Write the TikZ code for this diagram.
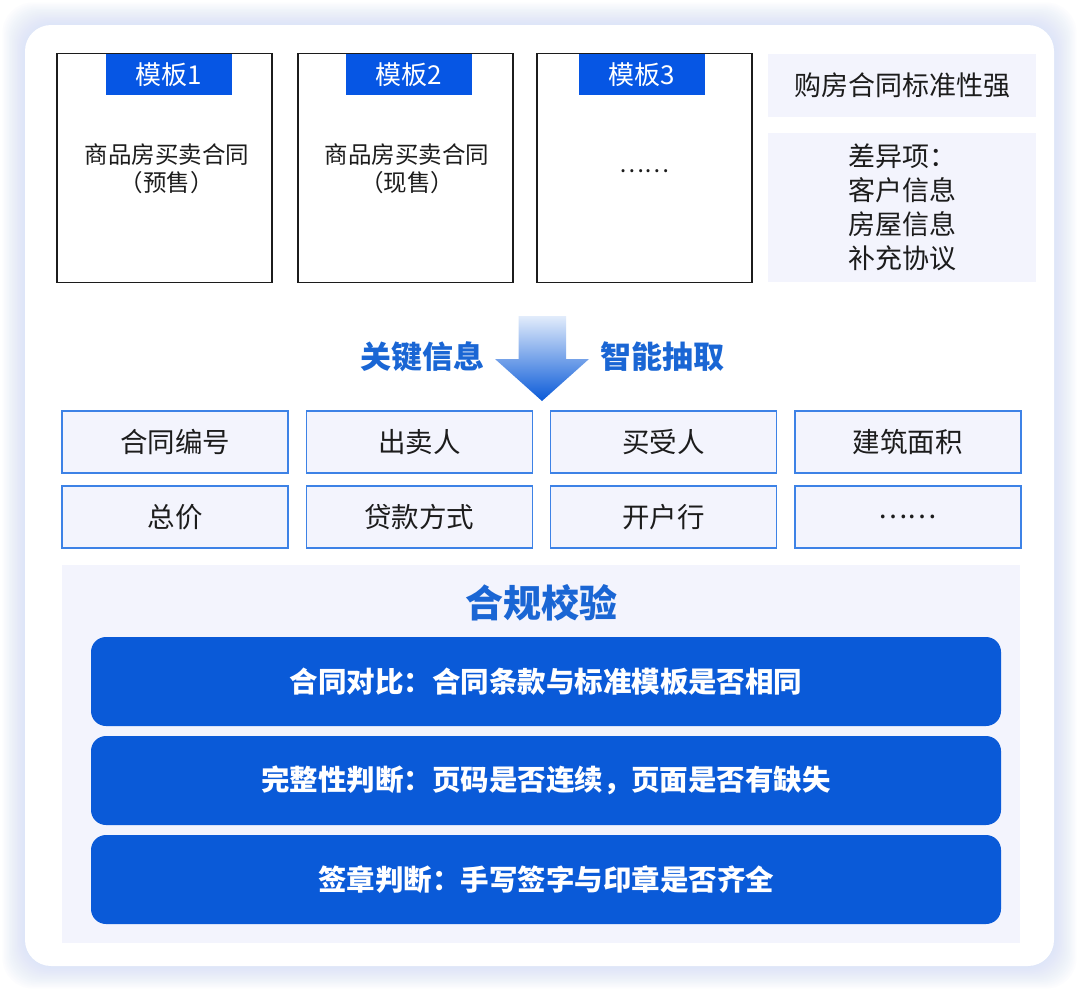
\documentclass[tikz,border=0pt]{standalone}
\usepackage{fontspec}
\setmainfont{Noto Sans CJK SC}
\definecolor{tabblue}{HTML}{0656E4}
\definecolor{barblue}{HTML}{0A5AD8}
\definecolor{titleblue}{HTML}{1A66D4}
\definecolor{paleblue}{HTML}{F3F4FD}
\definecolor{lineblue}{HTML}{3D82E6}
\definecolor{glowblue}{HTML}{C9D6F8}
\definecolor{arrowtop}{HTML}{E2ECFB}
\definecolor{inkgray}{HTML}{1C1C1C}
\begin{document}
\begin{tikzpicture}[x=1pt, y=-1pt,
  tplbox/.style={draw=inkgray, line width=1.3pt, fill=white, minimum width=215pt, minimum height=229pt, inner sep=0pt},
  tab/.style={fill=tabblue, text=white, minimum width=126pt, minimum height=41pt, inner sep=0pt, font=\fontsize{26}{30}\selectfont},
  tpltext/.style={text=inkgray, align=center, font=\fontsize{23.5}{28}\selectfont},
  notebox/.style={fill=paleblue, minimum width=268pt, inner sep=0pt, text=inkgray, align=center, font=\fontsize{27}{34}\selectfont},
  field/.style={draw=lineblue, line width=1.3pt, fill=paleblue, minimum width=226pt, minimum height=62pt, inner sep=0pt, text=inkgray, font=\fontsize{27.5}{32}\selectfont},
  bluelabel/.style={text=titleblue, font=\fontsize{31}{36}\selectfont\bfseries},
  bar/.style={fill=barblue, rounded corners=15pt, minimum width=910pt, minimum height=89pt, inner sep=0pt, text=white, font=\fontsize{28.5}{34}\selectfont\bfseries}]
\useasboundingbox (0,0) rectangle (1080,991);
\fill[white] (0,0) rectangle (1080,991);
\foreach \i in {1,...,14}
  \fill[glowblue, opacity=0.05, rounded corners=30pt] (25-1.6*\i,25-1.6*\i) rectangle (1054+1.6*\i,966+1.6*\i);
\fill[white, rounded corners=26pt] (25,25) rectangle (1054,966);

\node[tplbox] (tpl1) at (164.5,168) {};
\node[tplbox] (tpl2) at (405.5,168) {};
\node[tplbox] (tpl3) at (644.5,168) {};
\node[tab] (tab1) at (169,74.5) {模板1};
\node[tab] (tab2) at (408.5,74.5) {模板2};
\node[tab] (tab3) at (641.5,74.5) {模板3};
\node[tpltext] (kind1) at (167,169) {商品房买卖合同\\（预售）};
\node[tpltext] (kind2) at (407,169) {商品房买卖合同\\（现售）};
\node[tpltext] (kind3) at (644.5,171) {……};

\node[notebox, minimum height=63pt] (std) at (902,85.5) {购房合同标准性强};
\node[notebox, minimum height=149pt] (diff) at (902,207.5) {差异项：\\客户信息\\房屋信息\\补充协议};

\shade[top color=arrowtop, bottom color=barblue] (518.5,316) -- (566,316) -- (566,359) -- (589,359) -- (542,401) -- (495,359) -- (518.5,359) -- cycle;
\node[bluelabel] (keyinfo) at (422,357) {关键信息};
\node[bluelabel] (extract) at (662,357) {智能抽取};

\foreach \txt [count=\i] in {合同编号,出卖人,买受人,建筑面积}
  \node[field] (fa\i) at ({175+244.3*(\i-1)},442) {\txt};
\foreach \txt [count=\i] in {总价,贷款方式,开户行,……}
  \node[field] (fb\i) at ({175+244.3*(\i-1)},517) {\txt};

\node[fill=paleblue, minimum width=958pt, minimum height=378pt, inner sep=0pt] (panel) at (541,754) {};
\node[text=titleblue, font=\fontsize{38}{44}\selectfont\bfseries] (check) at (541,603) {合规校验};
\node[bar] (chk1) at (546,681.5) {合同对比：合同条款与标准模板是否相同};
\node[bar] (chk2) at (546,780.5) {完整性判断：页码是否连续，页面是否有缺失};
\node[bar] (chk3) at (546,879.5) {签章判断：手写签字与印章是否齐全};
\end{tikzpicture}
\end{document}
